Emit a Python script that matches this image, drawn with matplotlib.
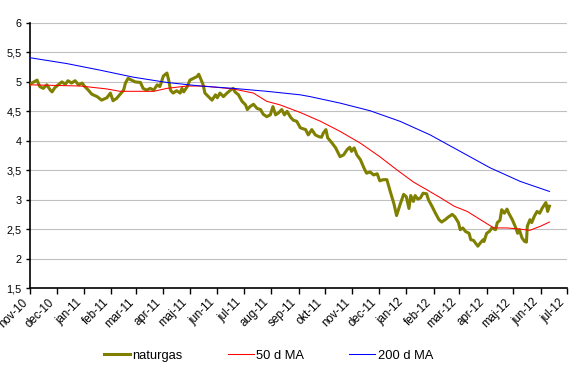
import numpy as np
import pandas as pd
import matplotlib
matplotlib.use("Agg")
import matplotlib.pyplot as plt
import matplotlib.dates as mdates

# daily natural gas price
gas_dates = [
    "2010-11-01", "2010-11-03", "2010-11-09", "2010-11-12", "2010-11-16", "2010-11-20",
    "2010-11-24", "2010-11-26", "2010-11-29", "2010-12-03", "2010-12-07", "2010-12-11",
    "2010-12-14", "2010-12-18", "2010-12-22", "2010-12-26", "2010-12-30", "2011-01-02",
    "2011-01-06", "2011-01-10", "2011-01-16", "2011-01-21", "2011-01-27", "2011-01-31",
    "2011-02-03", "2011-02-07", "2011-02-11", "2011-02-15", "2011-02-17", "2011-02-20",
    "2011-02-24", "2011-02-28", "2011-03-06", "2011-03-09", "2011-03-13", "2011-03-17",
    "2011-03-21", "2011-03-25", "2011-03-28", "2011-04-01", "2011-04-05", "2011-04-07",
    "2011-04-09", "2011-04-12", "2011-04-16", "2011-04-20", "2011-04-22", "2011-04-24",
    "2011-04-28", "2011-05-01", "2011-05-05", "2011-05-09", "2011-05-11", "2011-05-13",
    "2011-05-16", "2011-05-18", "2011-05-22", "2011-05-26", "2011-05-30", "2011-06-01",
    "2011-06-04", "2011-06-08", "2011-06-12", "2011-06-16", "2011-06-19", "2011-06-21",
    "2011-06-25", "2011-06-29", "2011-07-03", "2011-07-05", "2011-07-08", "2011-07-12",
    "2011-07-16", "2011-07-20", "2011-07-23", "2011-07-27", "2011-07-31", "2011-08-03",
    "2011-08-06", "2011-08-09", "2011-08-13", "2011-08-16", "2011-08-19", "2011-08-23",
    "2011-08-26", "2011-08-30", "2011-09-03", "2011-09-09", "2011-09-12", "2011-09-16",
    "2011-09-20", "2011-09-24", "2011-09-27", "2011-09-29", "2011-10-02", "2011-10-04",
    "2011-10-09", "2011-10-13", "2011-10-18", "2011-10-22", "2011-10-26", "2011-10-29",
    "2011-10-31", "2011-11-03", "2011-11-06", "2011-11-10", "2011-11-14", "2011-11-17",
    "2011-11-21", "2011-11-25", "2011-11-29", "2011-12-02", "2011-12-06", "2011-12-10",
    "2011-12-14", "2011-12-18", "2011-12-21", "2011-12-25", "2011-12-29", "2012-01-01",
    "2012-01-04", "2012-01-06", "2012-01-09", "2012-01-11", "2012-01-14", "2012-01-17",
    "2012-01-20", "2012-01-24", "2012-01-26", "2012-01-30", "2012-02-03", "2012-02-07",
    "2012-02-10", "2012-02-14", "2012-02-18", "2012-02-22", "2012-02-25", "2012-02-29",
    "2012-03-02", "2012-03-05", "2012-03-08", "2012-03-12", "2012-03-14", "2012-03-17",
    "2012-03-19", "2012-03-22", "2012-03-25", "2012-03-28", "2012-03-29", "2012-04-01",
    "2012-04-04", "2012-04-07", "2012-04-11", "2012-04-13", "2012-04-16", "2012-04-18",
    "2012-04-21", "2012-04-24", "2012-04-26", "2012-04-30", "2012-05-04", "2012-05-06",
    "2012-05-08", "2012-05-11", "2012-05-14", "2012-05-16", "2012-05-17", "2012-05-20",
    "2012-05-22", "2012-05-25", "2012-05-28", "2012-05-31", "2012-06-03", "2012-06-07",
    "2012-06-09", "2012-06-11",
]
gas_values = [
    4.96, 4.98, 5.03, 4.92, 4.89, 4.95,
    4.86, 4.83, 4.90, 4.95, 5.00, 4.96,
    5.02, 4.98, 5.02, 4.95, 4.98, 4.92,
    4.86, 4.79, 4.75, 4.69, 4.73, 4.81,
    4.68, 4.72, 4.79, 4.86, 4.98, 5.06,
    5.03, 5.00, 4.99, 4.89, 4.86, 4.89,
    4.86, 4.95, 4.92, 5.10, 5.15, 5.03,
    4.86, 4.81, 4.85, 4.81, 4.89, 4.83,
    4.92, 5.03, 5.06, 5.09, 5.13, 5.06,
    4.95, 4.81, 4.75, 4.69, 4.78, 4.73,
    4.81, 4.75, 4.81, 4.86, 4.89, 4.83,
    4.78, 4.67, 4.61, 4.53, 4.58, 4.62,
    4.55, 4.53, 4.45, 4.41, 4.44, 4.58,
    4.44, 4.47, 4.53, 4.44, 4.50, 4.40,
    4.35, 4.33, 4.22, 4.19, 4.10, 4.19,
    4.10, 4.07, 4.06, 4.13, 4.19, 4.05,
    3.96, 3.88, 3.73, 3.76, 3.85, 3.89,
    3.82, 3.88, 3.76, 3.68, 3.54, 3.45,
    3.47, 3.42, 3.44, 3.32, 3.34, 3.34,
    3.13, 2.93, 2.73, 2.92, 3.09, 3.05,
    2.85, 3.07, 2.97, 3.07, 3.01, 3.03,
    3.11, 3.10, 3.00, 2.89, 2.77, 2.66,
    2.62, 2.66, 2.71, 2.75, 2.71, 2.61,
    2.49, 2.52, 2.46, 2.43, 2.32, 2.31,
    2.27, 2.21, 2.27, 2.32, 2.29, 2.43,
    2.46, 2.52, 2.49, 2.61, 2.65, 2.83,
    2.77, 2.84, 2.77, 2.66, 2.52, 2.43,
    2.49, 2.35, 2.29, 2.28, 2.55, 2.66,
    2.61, 2.72, 2.80, 2.77, 2.86, 2.95,
    2.80, 2.89,
]

ma50_dates = [
    "2010-11-01", "2010-12-28", "2011-01-27", "2011-02-11", "2011-03-21", "2011-04-05",
    "2011-04-28", "2011-05-16", "2011-06-19", "2011-07-12", "2011-07-27", "2011-08-11",
    "2011-09-03", "2011-09-26", "2011-10-18", "2011-11-10", "2011-12-02", "2011-12-21",
    "2012-01-09", "2012-01-24", "2012-02-09", "2012-02-24", "2012-03-10", "2012-03-25",
    "2012-04-09", "2012-04-24", "2012-05-09", "2012-05-20", "2012-06-01", "2012-06-11",
]
ma50_values = [
    4.95, 4.93, 4.88, 4.84, 4.84, 4.89,
    4.93, 4.93, 4.88, 4.81, 4.67, 4.61,
    4.48, 4.33, 4.16, 3.96, 3.73, 3.51,
    3.30, 3.17, 3.03, 2.89, 2.80, 2.66,
    2.52, 2.52, 2.50, 2.48, 2.55, 2.62,
]

ma200_dates = [
    "2010-11-01", "2010-12-13", "2011-01-19", "2011-02-26", "2011-04-05", "2011-05-13",
    "2011-06-19", "2011-07-27", "2011-09-03", "2011-09-14", "2011-10-18", "2011-11-21",
    "2011-12-25", "2012-01-28", "2012-03-02", "2012-04-05", "2012-05-09", "2012-06-11",
]
ma200_values = [
    5.41, 5.31, 5.20, 5.08, 4.99, 4.93,
    4.89, 4.84, 4.78, 4.75, 4.64, 4.51,
    4.33, 4.10, 3.82, 3.54, 3.31, 3.14,
]

month_labels = [
    "nov-10", "dec-10", "jan-11", "feb-11", "mar-11", "apr-11", "maj-11",
    "jun-11", "jul-11", "aug-11", "sep-11", "okt-11", "nov-11", "dec-11",
    "jan-12", "feb-12", "mar-12", "apr-12", "maj-12", "jun-12", "jul-12",
]
y_ticks = [1.5, 2, 2.5, 3, 3.5, 4, 4.5, 5, 5.5, 6]

plt.rcParams["font.family"] = ["Liberation Sans", "DejaVu Sans"]

fig = plt.figure(figsize=(5.84, 3.91), dpi=100)
ax = fig.add_axes([0.0514, 0.2634, 0.9196, 0.6778])

ax.plot(pd.to_datetime(gas_dates), gas_values, color="#808000", lw=2.2,
        label="naturgas", zorder=3)
ax.plot(pd.to_datetime(ma50_dates), ma50_values, color="#FF0000", lw=0.75,
        label="50 d MA", zorder=4)
ax.plot(pd.to_datetime(ma200_dates), ma200_values, color="#0000FF", lw=0.75,
        label="200 d MA", zorder=4)

ax.set_ylim(1.5, 6)
ax.set_yticks(y_ticks)
ax.set_yticklabels([f"{v:g}".replace(".", ",") for v in y_ticks], fontsize=7.8)
ax.yaxis.grid(True, color="#C0C0C0", lw=0.8)
ax.set_axisbelow(True)

month_ticks = pd.date_range("2010-11-01", periods=len(month_labels), freq="MS")
ax.set_xlim(month_ticks[0], month_ticks[-1])
ax.set_xticks(month_ticks)
ax.set_xticklabels(month_labels, rotation=45, ha="right", fontsize=8.3)

for side in ("top", "right"):
    ax.spines[side].set_visible(False)
for side in ("left", "bottom"):
    ax.spines[side].set_linewidth(1.2)
ax.tick_params(axis="y", length=3, width=1, pad=3)
ax.tick_params(axis="x", length=4, width=1, pad=2)

fig.legend(loc="center", bbox_to_anchor=(0.46, 0.09), ncol=3, frameon=False,
           fontsize=9.3, handlelength=2.0, handletextpad=0.2, columnspacing=3.5)

fig.savefig("out.png", dpi=100)
